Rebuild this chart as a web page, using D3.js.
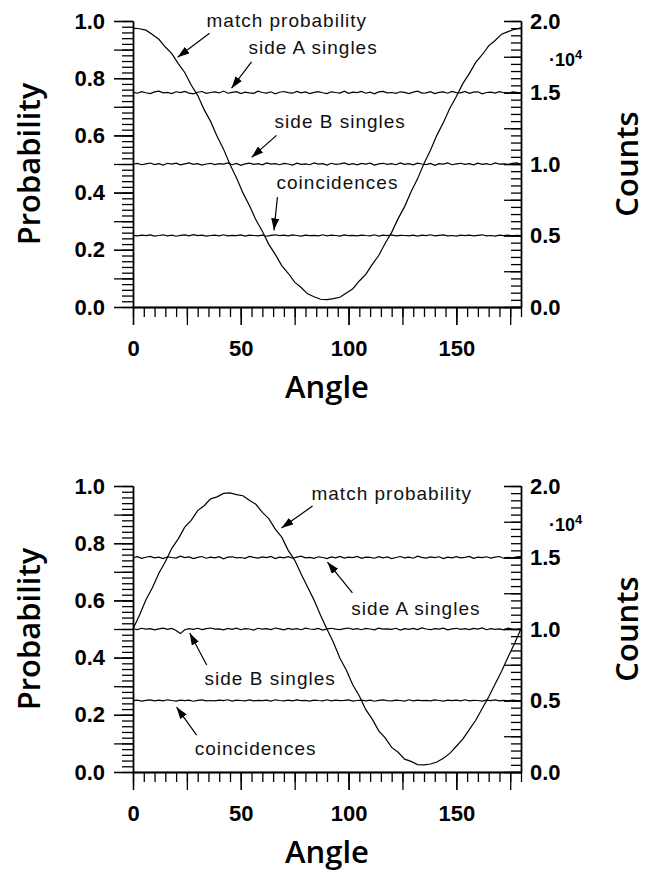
<!DOCTYPE html>
<html>
<head>
<meta charset="utf-8">
<script src="https://cdn.jsdelivr.net/npm/d3@7"></script>
<style>
  body { margin: 0; background: #fff; }
</style>
</head>
<body>
<div id="chart"></div>
<script>
// match probability, 0..180 deg in 3 deg steps
let topMatch = [0.975,0.973,0.968,0.953,0.936,0.909,0.886,0.851,0.820,0.776,0.740,0.690,0.649,0.597,0.552,0.498,
    0.452,0.399,0.355,0.305,0.265,0.219,0.184,0.145,0.118,0.087,0.068,0.046,0.036,0.027,0.026,
    0.029,0.034,0.049,0.064,0.091,0.114,0.149,0.180,0.223,0.261,0.309,0.351,0.403,0.448,0.502,
    0.548,0.601,0.645,0.695,0.736,0.781,0.816,0.855,0.882,0.913,0.932,0.954,0.963,0.971,0.976];

let botMatch = [0.500,0.548,0.602,0.644,0.695,0.735,0.782,0.815,0.856,0.880,0.914,0.931,0.955,0.962,0.974,0.976,
    0.970,0.966,0.950,0.936,0.908,0.886,0.849,0.821,0.775,0.741,0.692,0.647,0.601,0.548,0.499,
    0.453,0.398,0.356,0.304,0.266,0.218,0.185,0.144,0.119,0.086,0.069,0.045,0.037,0.026,0.025,
    0.028,0.035,0.048,0.065,0.090,0.115,0.148,0.181,0.222,0.262,0.308,0.352,0.402,0.449,0.501];

// counts, 0..180 deg in 2 deg steps
let topSideA = [15030,14950,15060,14980,14920,15040,15090,14970,15010,14930,
    15050,14990,15080,14960,14910,15020,15070,14940,15000,15040,
    14970,15100,14950,15010,15060,14920,15030,14980,14940,15090,
    15000,14960,15050,14910,15020,15070,14990,14950,15080,14970,
    15040,14930,15010,15060,14980,14920,15050,15000,14960,15090,
    14940,15030,14990,15070,14950,15020,14910,15040,15080,14970,
    15000,14940,15050,15010,14930,15030,15090,14960,14980,15060,
    14920,15010,15040,14950,15070,14990,14970,15080,14940,15020,
    15050,14910,15000,15030,14960,15060,14980,14930,15040,15010,
    14950];

let topSideB = [9980,10040,9950,10010,10070,9960,10020,9930,10050,9990,
    10060,9940,10010,10080,9970,10030,9920,10000,10050,9960,
    10020,9990,10070,9950,10040,9910,10010,10060,9970,10030,
    9940,10080,9990,10020,9950,10040,10000,9930,10060,9980,
    10010,9950,10070,9990,10030,9920,10050,9970,10010,10080,
    9960,10020,9940,10040,9990,10060,9930,10010,10050,9970,
    10030,9950,10080,9980,10020,9940,10060,10000,9960,10040,
    9910,10030,9990,10070,9950,10010,10050,9970,10020,9940,
    10060,9980,10030,9950,10070,9990,10010,9960,10040,10080,
    9970];

let topCoinc = [5010,4970,5030,4990,5040,4960,5000,5050,4980,5020,
    4950,5010,5040,4970,5060,4990,5020,4960,5000,5030,
    4980,5050,4970,5010,4990,5040,4960,5020,5000,4980,
    5030,4950,5010,5050,4990,5020,4970,5040,5000,4960,
    5030,4990,5010,4970,5050,4980,5020,5000,4960,5040,
    4990,5010,4970,5030,5000,4980,5050,4960,5020,4990,
    5040,4970,5010,5000,4980,5030,4960,5020,4990,5050,
    4970,5010,5040,4980,5000,4960,5030,4990,5020,4970,
    5010,5050,4980,5000,4960,5030,4990,5020,4970,5010,
    4990];

let botSideA = [14980,15060,14940,15020,15080,14970,15030,14920,15050,15000,
    14960,15090,14990,15040,14930,15010,15070,14950,15030,14980,
    15060,14910,15020,15050,14970,15000,14940,15080,15010,14960,
    15040,14990,15070,14930,15020,14980,15060,14950,15030,15090,
    14970,15010,14940,15050,15000,14920,15040,14980,15070,14960,
    15020,14990,15080,14940,15030,15010,14950,15060,14980,15040,
    14930,15000,15070,14970,15020,14950,15090,15010,14960,15040,
    14990,15050,14920,15030,14980,15060,14970,15010,15080,14940,
    15020,14990,15050,14960,15030,15070,14950,15010,14980,15040,
    15060];

let botSideB = [10020,9960,10050,9990,10030,9940,10010,10060,9970,10040,
    9900,9680,9950,10030,9980,10050,9960,10020,10070,9990,
    10010,9940,10040,9980,10060,9950,10020,10000,9930,10050,
    9990,10030,9960,10070,10010,9940,10040,9980,10020,9950,
    10060,10000,9970,10040,9930,10010,10050,9990,9960,10030,
    10070,9980,10020,9950,10040,10000,9940,10060,9990,10010,
    9970,10050,9930,10020,9980,10040,9960,10070,10000,9950,
    10030,9990,10060,9940,10010,10050,9970,10020,9960,10040,
    9990,10070,9950,10030,9980,10010,9940,10060,10000,9970,
    10030];

let botCoinc = [4990,5030,4960,5010,5040,4980,5020,4970,5050,5000,
    4960,5030,4990,5020,4950,5010,5040,4980,5000,4970,
    5030,4990,5050,4960,5020,5000,4980,5040,4970,5010,
    4990,5030,4960,5050,5000,4980,5020,4970,5040,4990,
    5010,4960,5030,5000,4980,5050,4970,5020,4990,5010,
    5040,4960,5000,5030,4980,5020,4950,5010,5040,4990,
    4970,5030,5000,4960,5050,4980,5020,4990,5010,4970,
    5040,5000,4960,5030,4990,5020,4980,5050,4970,5010,
    5000,4960,5030,4990,5040,4980,5010,4970,5020,5000,
    4990];

let probLabels = [0, 0.2, 0.4, 0.6, 0.8, 1.0];
let countLabels = [0, 5000, 10000, 15000, 20000];
let angleLabels = [0, 50, 100, 150];

// annotations: text anchor (angle, prob), arrow from -> tip (angle, prob)
let topNotes = [
    {text: "match probability", tx: 34.1, ty: 0.978, fx: 35.5, fy: 0.957, px: 20.7, py: 0.873},
    {text: "side A singles", tx: 53.6, ty: 0.884, fx: 55.0, fy: 0.857, px: 45.7, py: 0.765},
    {text: "side B singles", tx: 65.7, ty: 0.625, fx: 66.6, fy: 0.600, px: 55.0, py: 0.523},
    {text: "coincidences", tx: 66.6, ty: 0.411, fx: 67.0, fy: 0.384, px: 65.4, py: 0.268}
];
let botNotes = [
    {text: "match probability", tx: 82.8, ty: 0.951, fx: 83.3, fy: 0.930, px: 68.9, py: 0.853},
    {text: "side A singles", tx: 101.3, ty: 0.549, fx: 101.8, fy: 0.626, px: 90.2, py: 0.734},
    {text: "side B singles", tx: 33.2, ty: 0.304, fx: 34.2, fy: 0.374, px: 26.3, py: 0.486},
    {text: "coincidences", tx: 28.6, ty: 0.059, fx: 29.5, fy: 0.129, px: 20.2, py: 0.227}
];

let width = 650;
let height = 884;
let left = 133;
let right = 521;
let plotH = 286;

let tickFont = "'Liberation Sans', Arial, sans-serif";
let titleFont = "'Open Sans', 'Noto Sans', sans-serif";

let svg = d3.select("#chart")
    .append("svg")
    .attr("width", width)
    .attr("height", height);

svg.append("defs").append("marker")
    .attr("id", "head")
    .attr("markerUnits", "userSpaceOnUse")
    .attr("viewBox", "0 0 12 8")
    .attr("refX", 12)
    .attr("refY", 4)
    .attr("markerWidth", 12)
    .attr("markerHeight", 8)
    .attr("orient", "auto")
    .append("path")
    .attr("d", "M0,0 L12,4 L0,8 Z")
    .attr("fill", "#000");

function styleTicks(sel) {
    sel.attr("font-family", tickFont)
        .attr("font-size", 22)
        .attr("font-weight", "bold");
    sel.selectAll("line, path").attr("stroke", "#000").attr("stroke-width", 1.3);
    sel.selectAll("text").attr("fill", "#000");
}

function drawPanel(top, match, sideA, sideB, coinc, notes) {
    let g = svg.append("g");

    let x = d3.scaleLinear().domain([0, 180]).range([left, right]);
    let y = d3.scaleLinear().domain([0, 1]).range([top + plotH, top]);
    let yc = d3.scaleLinear().domain([0, 20000]).range([top + plotH, top]);

    // left axis
    g.append("g").attr("transform", `translate(${left},0)`)
        .call(d3.axisLeft(y).tickValues(d3.range(0, 1.001, 0.02)).tickSize(11).tickSizeOuter(0).tickFormat(""))
        .call(styleTicks);
    g.append("g").attr("transform", `translate(${left},0)`)
        .call(d3.axisLeft(y).tickValues(d3.range(0, 1.001, 0.1)).tickSize(19).tickSizeOuter(0).tickFormat(""))
        .call(styleTicks);
    g.append("g").attr("transform", `translate(${left},0)`)
        .call(d3.axisLeft(y).tickValues(probLabels).tickSize(19).tickPadding(9).tickSizeOuter(0).tickFormat(d3.format(".1f")))
        .call(styleTicks);

    // right axis (counts), ticks pointing inward
    g.append("g").attr("transform", `translate(${right},0)`)
        .call(d3.axisRight(yc).tickValues(d3.range(0, 20001, 500)).tickSize(-10).tickSizeOuter(0).tickFormat(""))
        .call(styleTicks);
    g.append("g").attr("transform", `translate(${right},0)`)
        .call(d3.axisRight(yc).tickValues(d3.range(0, 20001, 2500)).tickSize(-17).tickSizeOuter(0).tickFormat(""))
        .call(styleTicks);
    g.append("g").attr("transform", `translate(${right},0)`)
        .call(d3.axisRight(yc).tickValues(countLabels).tickSize(-17).tickPadding(9).tickSizeOuter(0)
            .tickFormat(d => d3.format(".1f")(d / 10000)))
        .call(styleTicks);

    // bottom axis
    g.append("g").attr("transform", `translate(0,${top + plotH})`)
        .call(d3.axisBottom(x).tickValues(d3.range(0, 181, 5)).tickSize(10).tickSizeOuter(0).tickFormat(""))
        .call(styleTicks);
    g.append("g").attr("transform", `translate(0,${top + plotH})`)
        .call(d3.axisBottom(x).tickValues(d3.range(0, 181, 25)).tickSize(18).tickSizeOuter(0).tickFormat(""))
        .call(styleTicks);
    g.append("g").attr("transform", `translate(0,${top + plotH})`)
        .call(d3.axisBottom(x).tickValues(angleLabels).tickSize(18).tickPadding(15).tickSizeOuter(0).tickFormat(d3.format("d")))
        .call(styleTicks);

    // x10^4 multiplier
    let mult = g.append("text")
        .attr("x", 549)
        .attr("y", top + 45)
        .attr("font-family", tickFont)
        .attr("font-size", 18)
        .attr("font-weight", "bold")
        .text("·10");
    mult.append("tspan")
        .attr("dy", -7)
        .attr("font-size", 13)
        .text("4");

    // axis titles
    g.append("text")
        .attr("transform", `translate(40,${top + plotH / 2}) rotate(-90)`)
        .attr("text-anchor", "middle")
        .attr("font-family", titleFont)
        .attr("font-weight", 600)
        .attr("font-size", 31)
        .text("Probability");
    g.append("text")
        .attr("transform", `translate(638,${top + plotH / 2}) rotate(-90)`)
        .attr("text-anchor", "middle")
        .attr("font-family", titleFont)
        .attr("font-weight", 600)
        .attr("font-size", 31)
        .text("Counts");
    g.append("text")
        .attr("x", (left + right) / 2)
        .attr("y", top + plotH + 91)
        .attr("text-anchor", "middle")
        .attr("font-family", titleFont)
        .attr("font-weight", 600)
        .attr("font-size", 31)
        .text("Angle");

    // data lines
    let probLine = d3.line()
        .x((d, i, arr) => x(i * 180 / (arr.length - 1)))
        .y(d => y(d));
    let countLine = d3.line()
        .x((d, i, arr) => x(i * 180 / (arr.length - 1)))
        .y(d => yc(d));

    [sideA, sideB, coinc].forEach(s => {
        g.append("path")
            .datum(s)
            .attr("d", countLine)
            .attr("fill", "none")
            .attr("stroke", "#000")
            .attr("stroke-width", 1.2);
    });
    g.append("path")
        .datum(match)
        .attr("d", probLine)
        .attr("fill", "none")
        .attr("stroke", "#000")
        .attr("stroke-width", 1.2);

    // annotations
    notes.forEach(n => {
        g.append("text")
            .attr("x", x(n.tx))
            .attr("y", y(n.ty))
            .attr("font-family", tickFont)
            .attr("font-size", 19)
            .attr("letter-spacing", 1)
            .attr("fill", "#111")
            .text(n.text);
        g.append("line")
            .attr("x1", x(n.fx))
            .attr("y1", y(n.fy))
            .attr("x2", x(n.px))
            .attr("y2", y(n.py))
            .attr("stroke", "#000")
            .attr("stroke-width", 1.2)
            .attr("marker-end", "url(#head)");
    });
}

drawPanel(21, topMatch, topSideA, topSideB, topCoinc, topNotes);
drawPanel(486, botMatch, botSideA, botSideB, botCoinc, botNotes);
</script>
</body>
</html>
